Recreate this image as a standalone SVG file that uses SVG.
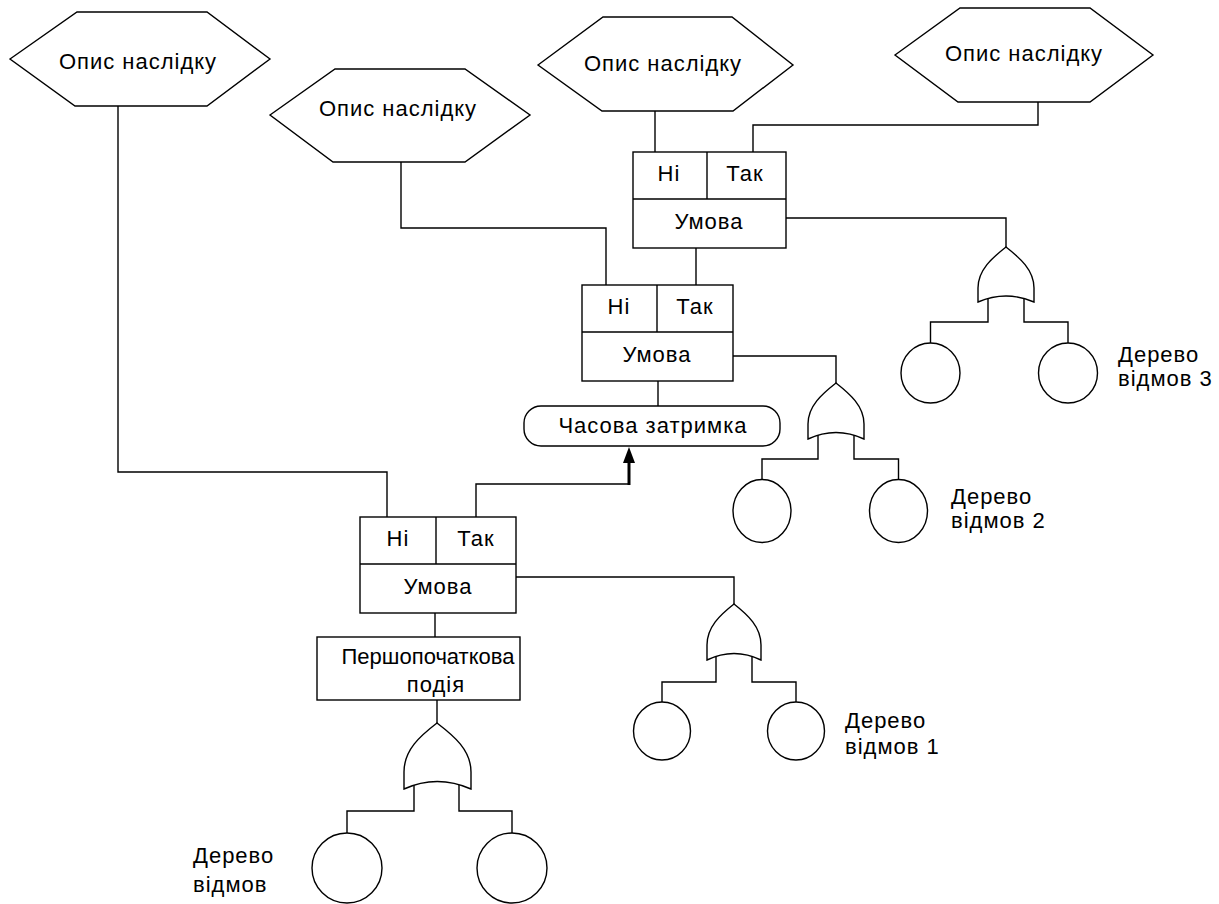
<svg xmlns="http://www.w3.org/2000/svg" width="1219" height="904" viewBox="0 0 1219 904">
<style>
.s{fill:#fff;stroke:#000;stroke-width:1.4;stroke-linejoin:miter}
.c{fill:none;stroke:#000;stroke-width:1.4}
.t{font-family:"Liberation Sans",Arial,sans-serif;font-size:22px;letter-spacing:1px;fill:#000}
.n{letter-spacing:0}
.m{text-anchor:middle}
</style>
<rect width="1219" height="904" fill="#fff"/>
<g id="connectors">
<path class="c" d="M118,106 V472 H387 V517"/>
<path class="c" d="M401,162 V228 H606 V285"/>
<path class="c" d="M655,111 V152"/>
<path class="c" d="M1038,102 V125 H753 V152"/>
<path class="c" d="M786,218 H1006 V247"/>
<path class="c" d="M696,248 V285"/>
<path class="c" d="M733,356 H836 V383"/>
<path class="c" d="M658,381 V406"/>
<path class="c" d="M476,517 V484 H629"/>
<path d="M629,485 V463" stroke="#000" stroke-width="3" fill="none"/>
<path d="M629,447 L635,463 L623,463 Z" fill="#000"/>
<path class="c" d="M516,577 H734 V604"/>
<path class="c" d="M435,613 V637"/>
<path class="c" d="M437,700 V723"/>
<path class="c" d="M988,298.5 V322 H930.5 V343 M1024,298.5 V322 H1068 V343"/>
<path class="c" d="M818,435 V459 H762 V479.5 M854,435 V459 H898.5 V479.5"/>
<path class="c" d="M716,657 V682 H662 V702 M752,657 V682 H796 V702"/>
<path class="c" d="M414,785 V811 H347 V833 M459,785 V811 H512 V833"/>
</g>
<g id="hex1">
<polygon class="s" points="10,59 77,12 207,12 270,59 207,106 75,106"/>
<text class="t m" x="138" y="69">Опис наслідку</text>
</g>
<g id="hex2">
<polygon class="s" points="270,115 335,69 465,69 530,115 465,162 333,162"/>
<text class="t m" x="398" y="116">Опис наслідку</text>
</g>
<g id="hex3">
<polygon class="s" points="538,65 603,17 732,17 793,65 733,111 602,111"/>
<text class="t m" x="663" y="71">Опис наслідку</text>
</g>
<g id="hex4">
<polygon class="s" points="895,55 960,8 1090,8 1153,55 1090,102 958,102"/>
<text class="t m" x="1024" y="61">Опис наслідку</text>
</g>
<g id="cond3">
<rect class="s" x="633" y="152" width="153" height="96"/>
<path class="c" d="M633,199 H786 M707,152 V199"/>
<text class="t m" x="669" y="181">Ні</text>
<text class="t m" x="745" y="181">Так</text>
<text class="t m" x="709" y="229">Умова</text>
</g>
<g id="cond2">
<rect class="s" x="582" y="285" width="151" height="96"/>
<path class="c" d="M582,332 H733 M657,285 V332"/>
<text class="t m" x="619" y="314">Ні</text>
<text class="t m" x="695" y="314">Так</text>
<text class="t m" x="657" y="362">Умова</text>
</g>
<g id="delay">
<rect class="s" x="524" y="406" width="256" height="40" rx="17" ry="17"/>
<text class="t m" x="653" y="433">Часова затримка</text>
</g>
<g id="cond1">
<rect class="s" x="360" y="517" width="156" height="96"/>
<path class="c" d="M360,564 H516 M436,517 V564"/>
<text class="t m" x="398" y="546">Ні</text>
<text class="t m" x="476" y="546">Так</text>
<text class="t m" x="438" y="594">Умова</text>
</g>
<g id="initial">
<rect class="s" x="317" y="637" width="203" height="63"/>
<text class="t n m" x="428" y="664">Першопочаткова</text>
<text class="t m" x="436" y="692">подія</text>
</g>
<g id="gate3">
<path class="s" d="M1006,247 C992,258 978,270 978,288 L978,302 Q1006,290 1034,302 L1034,288 C1034,270 1020,258 1006,247 Z"/>
<ellipse class="s" cx="930.5" cy="373" rx="29.5" ry="30"/>
<ellipse class="s" cx="1068" cy="373" rx="29.5" ry="30"/>
<text class="t" x="1118" y="362">Дерево</text>
<text class="t" x="1118" y="386">відмов 3</text>
</g>
<g id="gate2">
<path class="s" d="M836,383 C822,394 808,406 808,424 L808,439 Q836,426 864,439 L864,424 C864,406 850,394 836,383 Z"/>
<ellipse class="s" cx="762" cy="511" rx="29" ry="31.5"/>
<ellipse class="s" cx="898.5" cy="511" rx="29" ry="31.5"/>
<text class="t" x="951" y="504">Дерево</text>
<text class="t" x="951" y="528">відмов 2</text>
</g>
<g id="gate1">
<path class="s" d="M734,604 C720,615 707,627 707,645 L707,660 Q734,647 761,660 L761,645 C761,627 748,615 734,604 Z"/>
<ellipse class="s" cx="662" cy="731" rx="28.5" ry="29"/>
<ellipse class="s" cx="796" cy="731" rx="28.5" ry="29"/>
<text class="t" x="845" y="728">Дерево</text>
<text class="t" x="845" y="754">відмов 1</text>
</g>
<g id="gate0">
<path class="s" d="M437,723 C420,736 404,750 404,772 L404,789 Q437,774 471,789 L471,772 C471,750 454,736 437,723 Z"/>
<ellipse class="s" cx="347" cy="868" rx="35" ry="35"/>
<ellipse class="s" cx="512" cy="868" rx="35" ry="35"/>
<text class="t" x="193" y="863">Дерево</text>
<text class="t" x="193" y="892">відмов</text>
</g>
</svg>
